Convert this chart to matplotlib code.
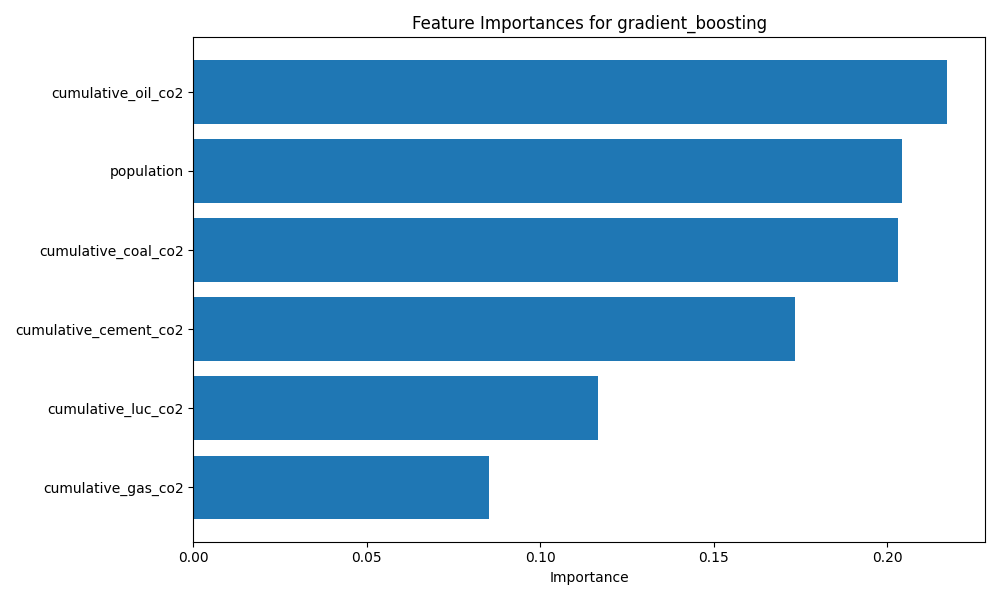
import matplotlib
matplotlib.use("Agg")
import matplotlib.pyplot as plt

features = ["cumulative_gas_co2", "cumulative_luc_co2", "cumulative_cement_co2",
            "cumulative_coal_co2", "population", "cumulative_oil_co2"]
importances = [0.0853, 0.1167, 0.1735, 0.2032, 0.2043, 0.2173]


def main():
    fig, ax = plt.subplots(figsize=(10, 6))
    ax.barh(features, importances, color="#1f77b4")
    ax.set_xlabel("Importance")
    ax.set_title("Feature Importances for gradient_boosting")
    plt.tight_layout()
    plt.savefig("out.png", dpi=100)


main()
